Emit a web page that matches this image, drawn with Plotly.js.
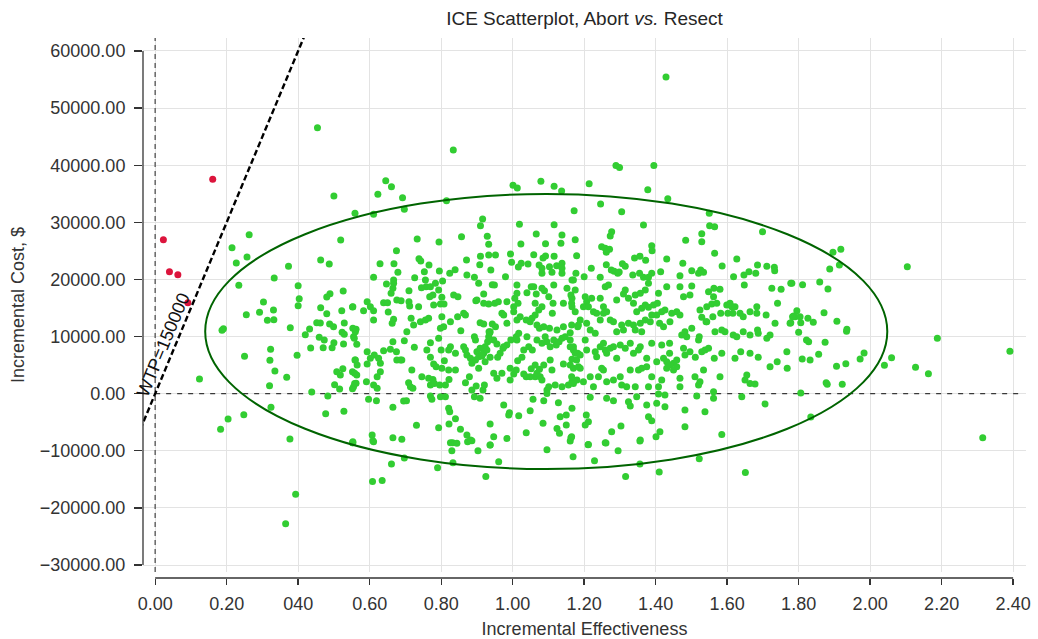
<!DOCTYPE html>
<html><head><meta charset="utf-8">
<script src="https://cdn.plot.ly/plotly-3.0.1.min.js"></script>
<style>html,body{margin:0;padding:0;background:#fff}#chart{width:1038px;height:639px}</style>
</head><body><div id="chart"></div>
<script>
// ---- data (incremental effectiveness, incremental cost $) ----
const redPoints = [[0.023,26970],[0.040,21360],[0.0635,20840],[0.0915,15930],[0.161,37540]];

const greenOuter = [
[0.454,46580],[0.500,34620],[0.559,31590],
[0.263,27840],[0.519,26910],[0.215,25570],[0.257,23940],[0.227,22890],[0.463,23410],[0.487,22710],[0.373,22310],[0.333,20260],[0.234,18980],[0.400,18910],[0.526,17980],[0.489,17510],[0.480,16930],[0.403,16640],[0.303,16060],[0.400,15410],[0.463,15060],[0.552,15180],[0.331,14660],[0.292,14250],[0.522,14530],[0.480,14010],[0.255,13830],[0.314,12850],[0.332,12960],[0.452,12430],[0.462,12380],[0.488,12200],[0.499,11730],[0.432,11330],[0.378,11560],[0.529,12380],[0.562,11280],[0.191,11380],[0.187,11100],[0.420,10330],[0.523,10750],[0.529,10400],[0.459,9880],[0.473,9400],[0.500,8930],[0.435,8000],[0.470,8050],[0.495,8050],[0.527,8700],[0.564,8650],[0.323,7770],[0.250,6550],[0.397,6720],[0.321,5850],[0.559,5900],[0.335,3970],[0.525,4380],[0.508,3850],[0.518,3270],[0.552,3850],[0.564,3270],[0.368,2870],[0.124,2570],
[0.320,1400],[0.438,300],[0.483,-400],[0.502,1580],[0.516,820],[0.552,880],[0.562,1820],[0.324,-2380],[0.248,-3680],[0.204,-4430],[0.183,-6240],[0.477,-3500],[0.528,-3090],[0.377,-7930],[0.552,-8580],[0.393,-17620],[0.365,-22760]
];

const greenUpper = [
[0.834,42670],[0.611,31410],[0.645,37300],[0.661,36250],[0.623,34910],[0.692,34320],[0.697,32290],[0.815,33800],[1.001,36490],[1.013,36020],[1.079,37190],[1.116,36320],[1.137,35490],[1.172,32040],[0.916,30590],[0.910,29420],[1.019,29660],[1.116,29590],[0.733,27090],[0.794,26560],[0.857,27490],[0.929,27560],[0.933,26160],[0.675,25040],[1.023,26210],[1.066,27960],[1.092,26270],[1.138,27790],[1.135,26330],[1.175,26970],[0.629,22760],[0.668,22760],[0.679,21250],[0.738,23640],[0.743,23240],[0.766,22540],[0.753,21360],[0.795,21480],[0.839,21710],[0.871,23410],[0.910,24060],[0.908,22590],[0.933,24290],[0.952,24290],[0.939,21660],[0.994,24460],[0.997,23010],[1.016,22190],[1.024,22830],[1.043,22710],[1.059,24340],[1.074,22540],[1.082,21960],[1.085,23760],[1.092,24110],[1.103,22240],[1.116,24060],[1.123,22410],[1.138,22830],[1.138,21960],[1.138,21080],[1.082,21080],[1.110,21250],[1.177,21080],[0.611,20380],[0.980,20490],[0.872,20780],[0.893,20380],[0.726,20310],[0.756,19910],[0.667,19910],
[1.429,55450],[1.289,39930],[1.299,39580],[1.395,39930],[1.214,36770],[1.378,35720],[1.434,34150],[1.246,33210],[1.305,31870],[1.550,31580],[1.366,29540],[1.551,29420],[1.565,29240],[1.699,28370],[1.277,28370],[1.273,27610],[1.529,28020],[1.529,26620],[1.484,26850],[1.249,25740],[1.259,25450],[1.271,25280],[1.262,24750],[1.179,24170],[1.389,25920],[1.390,25040],[1.565,24580],[1.341,23760],[1.356,24050],[1.372,23350],[1.431,23580],[1.627,23580],[1.262,22590],[1.307,22770],[1.315,22300],[1.220,21950],[1.476,22820],[1.586,22360],[1.685,22530],[1.711,22300],[1.732,22120],[1.733,21540],[1.200,20490],[1.245,20370],[1.276,21660],[1.284,21420],[1.294,21070],[1.298,21310],[1.336,20780],[1.355,21070],[1.366,20370],[1.380,20370],[1.389,21070],[1.414,21360],[1.468,20660],[1.501,21540],[1.520,21070],[1.526,21660],[1.534,21250],[1.618,20490],[1.647,20780],[1.661,21360],[1.680,21070]
];

const greenRight = [
[1.896,24750],[1.918,25280],[1.887,21840],[1.914,22540],[2.104,22240],[1.781,19330],[1.811,19090],[1.859,19560],[1.882,18330],[1.795,14540],[1.786,13600],[1.790,13490],[1.778,12440],[1.826,13200],[1.806,12440],[1.841,12500],[1.871,14190],[1.907,12670],[1.935,11270],[1.934,10920],[1.800,10740],[1.822,9400],[1.828,9110],[1.874,8990],[2.188,9690],[2.391,7420],[1.983,7130],[1.856,6890],[1.972,6070],[2.060,6310],[1.810,6070],[1.832,5900],[2.040,4970],[1.906,4790],[1.932,5260],[2.127,4620],[2.163,3510],[1.877,1930],[1.880,1640],[1.922,1640],[1.806,120],[1.834,-4080],[2.315,-7700]
];

const greenLower = [
[0.553,-8570],[0.611,-8400],[0.661,-12310],[0.697,-11260],[0.608,-15350],[0.635,-15170],[0.790,-12950],[0.832,-8570],[0.830,-9970],[0.833,-12080],[0.874,-8400],[0.886,-8220],[0.903,-9970],[0.937,-8980],[0.961,-11900],[0.925,-14470],[1.096,-9800],[1.161,-8280],[1.169,-11030],[1.211,-8920],[1.229,-11730],[1.261,-8630],[1.295,-9970],[1.316,-14470],[1.356,-8280],[1.356,-12310],[1.410,-13710],[1.522,-11380],[1.651,-13770]
];

const greenCoreLeft = [
[0.905,19330],[0.949,19030],[1.012,19030],[1.059,18740],[1.082,18450],[1.166,19910],[0.647,19210],[0.667,19330],[0.758,18740],[0.784,19330],[0.804,19730],[0.824,21080],[0.943,19090],[1.115,19030],[1.152,18450],
[0.665,18450],[0.660,17570],[0.676,16410],[0.688,16290],[0.639,15940],[0.650,15940],[0.593,16110],[0.602,15240],[0.553,15240],[0.583,14540],[0.611,14540],[0.710,18040],[0.745,18570],[0.770,18740],[0.777,17280],[0.793,18160],[0.802,16870],[0.768,16990],[0.779,15530],[0.798,15710],[0.808,15710],[0.835,17280],[0.847,16990],[0.710,16110],[0.712,15360],[0.737,15240],[0.652,14310],[0.897,16290],[0.919,17460],[0.933,15710],[0.950,15820],[0.960,16110],[0.984,16110],[1.006,16700],[1.012,17570],[1.003,15240],[1.015,15820],[1.040,17690],[1.052,18740],[1.066,17460],[1.089,18040],[1.101,16990],[1.063,15820],[1.073,14660],[1.082,15240],[1.113,15820],[1.142,15820],[1.166,16700],[1.166,15240],[0.919,15820],[0.900,16410],
[0.553,11450],[0.560,10860],[0.611,12900],[0.663,12320],[0.667,13020],[0.716,13200],[0.742,12610],[0.756,12900],[0.765,13200],[0.802,13490],[0.807,11740],[0.826,12610],[0.846,13490],[0.863,14070],[0.868,13780],[0.855,11040],[0.909,12440],[0.919,12200],[0.934,10860],[0.943,12200],[0.952,11740],[0.970,14070],[0.975,13780],[0.984,12320],[1.003,14360],[1.012,12900],[1.021,13490],[1.038,12900],[1.049,12610],[1.054,13200],[1.063,13780],[1.068,12030],[1.075,11450],[1.087,11740],[1.103,11450],[1.111,14070],[1.124,11150],[1.142,11740],[1.161,10690],[1.182,11740],[0.937,10860],[0.723,12030],[0.704,10860],[0.798,11450],
[0.555,9990],[0.557,9690],[0.593,7360],[0.613,6780],[0.639,7530],[0.658,7770],[0.665,9110],[0.675,7360],[0.690,5900],[0.697,9290],[0.725,8120],[0.760,7650],[0.770,8930],[0.793,9690],[0.800,7650],[0.770,6370],[0.821,7650],[0.826,8230],[0.840,7070],[0.863,8230],[0.868,7650],[0.893,9990],[0.896,9400],[0.900,7360],[0.909,7940],[0.914,6600],[0.919,7070],[0.923,8230],[0.928,7650],[0.930,9110],[0.933,9990],[0.936,10690],[0.947,9400],[0.956,8700],[0.975,8230],[0.984,8530],[0.995,9400],[1.010,9990],[1.012,9400],[1.017,10570],[1.031,7650],[1.040,9990],[1.045,8230],[1.055,7650],[1.068,9400],[1.082,8820],[1.091,9990],[1.096,9110],[1.105,8230],[1.115,9400],[1.122,8530],[1.130,9110],[1.138,9690],[1.147,9990],[1.161,8230],[1.170,7650],[1.182,7070],
[0.560,5900],[0.565,5020],[0.558,3570],[0.593,5200],[0.602,6190],[0.625,6190],[0.630,5320],[0.630,3860],[0.621,2980],[0.676,5900],[0.686,5900],[0.718,4150],[0.746,2980],[0.765,2690],[0.777,2510],[0.779,5200],[0.786,4730],[0.802,4440],[0.809,5780],[0.821,4150],[0.840,4150],[0.872,6780],[0.882,6190],[0.886,5320],[0.896,5900],[0.905,6480],[0.914,6780],[0.923,5610],[0.905,4440],[0.937,6370],[0.958,6370],[0.965,7070],[0.973,7940],[0.993,4440],[1.003,3450],[1.010,4150],[1.014,5780],[1.026,6370],[1.031,3450],[1.052,4380],[1.063,5020],[1.063,2980],[1.075,4270],[1.077,2980],[1.087,5020],[1.105,5900],[1.110,4150],[1.142,5200],[1.161,5020],[1.166,6020],[1.189,4440],[0.879,2980],[0.947,3570],
[0.555,1230],[0.558,1810],[0.591,2110],[0.611,1520],[0.621,940],[0.709,1930],[0.714,1230],[0.721,940],[0.770,1520],[0.781,1810],[0.796,1520],[0.812,1520],[0.822,2510],[0.868,1930],[0.886,650],[0.898,1350],[0.917,650],[0.921,1520],[0.956,2690],[0.970,3570],[0.993,2400],[1.038,2980],[1.049,2980],[1.068,3570],[1.082,2400],[1.096,650],[1.101,1230],[1.119,1520],[1.138,1230],[1.156,1520],[1.166,2110],[1.180,2400],
[0.597,-990],[0.619,-1220],[0.665,-2390],[0.695,-1280],[0.703,-1220],[0.770,-400],[0.774,-990],[0.798,-520],[0.812,-520],[0.821,-2560],[0.824,-3150],[0.893,-520],[0.909,-810],[0.975,-1980],[0.991,-3320],[0.989,-3730],[1.017,-3850],[1.049,-2970],[1.057,-990],[1.087,-1220],[1.096,60],[1.128,-1570],[1.133,-4020],[1.150,-3730],[1.166,-2560],
[0.731,-5540],[0.793,-5950],[0.822,-5310],[0.840,-4370],[0.854,-6240],[0.872,-7230],[0.882,-8110],[0.937,-5310],[0.947,-7530],[0.984,-7820],[1.038,-6820],[1.085,-5190],[1.124,-6070],[1.131,-6940],[1.150,-5480],[1.163,-7700],[0.607,-7230],[0.609,-8230],[0.665,-7700],[0.690,-7990],[0.826,-8580],[0.844,-8690],[0.937,-8980],[0.553,-8400]
];

const greenCoreRight = [
[1.468,18740],[1.501,18860],[1.548,17870],[1.563,18450],[1.580,18270],[1.648,19030],[1.725,18450],[1.751,18270],[1.778,19330],[1.170,19910],[1.175,18160],[1.259,18740],[1.268,19030],[1.310,17460],[1.315,18160],[1.343,17280],[1.357,17570],[1.371,18160],[1.380,19330],[1.408,17570],[1.431,18740],
[1.163,17280],[1.203,16990],[1.207,16110],[1.221,16700],[1.245,16700],[1.165,15820],[1.175,14360],[1.198,15240],[1.212,15240],[1.226,14360],[1.254,15240],[1.263,14360],[1.291,16410],[1.324,16700],[1.338,15820],[1.347,14360],[1.361,14950],[1.371,15530],[1.380,15120],[1.394,15530],[1.405,15820],[1.417,14360],[1.426,14660],[1.445,14070],[1.459,14360],[1.478,16990],[1.496,17280],[1.524,14660],[1.543,15240],[1.557,15710],[1.562,16990],[1.571,15820],[1.582,14070],[1.599,15530],[1.608,15820],[1.613,15240],[1.622,15240],[1.616,14070],[1.636,14070],[1.645,13490],[1.664,14360],[1.683,14070],[1.709,13780],[1.741,15820],[1.683,15240],[1.602,14070],[1.529,13370],[1.543,12610],
[1.165,12030],[1.189,12900],[1.207,12320],[1.235,14070],[1.245,12900],[1.254,14070],[1.273,12900],[1.282,12610],[1.291,10860],[1.305,12030],[1.310,11150],[1.324,12320],[1.338,12030],[1.343,11150],[1.357,12320],[1.361,10860],[1.371,12900],[1.385,12610],[1.389,13780],[1.403,13780],[1.411,12320],[1.422,11740],[1.440,12610],[1.468,13780],[1.473,10280],[1.482,10860],[1.487,9990],[1.501,11450],[1.522,9990],[1.541,12610],[1.560,13490],[1.566,10860],[1.585,11150],[1.594,10860],[1.617,10280],[1.627,9990],[1.645,10860],[1.664,10280],[1.685,11150],[1.687,10570],[1.711,9690],[1.720,10280],[1.734,12320],[1.776,12320],[1.783,13490],[1.804,13490],[1.184,12030],[1.217,11150],[1.231,10570],
[1.161,9400],[1.170,8230],[1.175,7070],[1.179,5900],[1.189,6780],[1.203,9400],[1.207,7650],[1.231,7360],[1.235,6480],[1.245,8230],[1.254,8820],[1.259,7650],[1.263,7070],[1.273,7940],[1.282,8230],[1.291,6190],[1.301,8530],[1.315,7940],[1.329,8820],[1.338,7070],[1.352,7650],[1.357,8230],[1.375,6190],[1.389,8820],[1.403,5610],[1.417,8530],[1.422,6190],[1.431,5610],[1.439,8820],[1.439,7070],[1.450,5320],[1.459,5900],[1.478,7940],[1.482,6780],[1.496,7360],[1.511,6370],[1.520,9400],[1.529,7360],[1.538,7650],[1.548,7940],[1.564,6190],[1.585,7070],[1.622,6190],[1.638,7360],[1.664,7070],[1.687,6370],[1.720,4730],[1.740,5610],[1.767,7360],[1.768,4440],
[1.170,4440],[1.184,4730],[1.198,2110],[1.217,2980],[1.226,1230],[1.240,2980],[1.249,4440],[1.254,4150],[1.263,2110],[1.282,2400],[1.301,2980],[1.305,1520],[1.319,1230],[1.329,4150],[1.343,1230],[1.352,4150],[1.361,4440],[1.375,4730],[1.380,1230],[1.389,2980],[1.408,1230],[1.417,2400],[1.431,4440],[1.440,5020],[1.450,4150],[1.459,4730],[1.468,1230],[1.468,2690],[1.510,2980],[1.520,1520],[1.524,2110],[1.534,4150],[1.562,350],[1.580,2980],[1.650,2400],[1.655,3270],[1.664,1810],[1.678,1700],[1.170,1810],[1.165,2980],
[1.217,-640],[1.263,-810],[1.282,-1220],[1.324,-1400],[1.329,-2150],[1.347,-520],[1.375,-1980],[1.403,-1690],[1.426,-2270],[1.408,-50],[1.426,-230],[1.515,-400],[1.538,-3150],[1.562,-810],[1.641,-520],[1.706,-1800],[1.482,-2860],[1.206,-3730],[1.212,-4900],[1.203,-5480],[1.165,-7530],[1.259,-8580],[1.277,-6650],[1.303,-5660],[1.357,-8110],[1.380,-4020],[1.389,-4720],[1.412,-6650],[1.401,-7530],[1.482,-5770],[1.585,-7120],[1.212,-8870]
];

const xTickVals = [0,0.2,0.4,0.6,0.8,1.0,1.2,1.4,1.6,1.8,2.0,2.2,2.4];
const xTickText = ['0.00','0.20','040','0.60','0.80','1.00','1.20','1.40','1.60','1.80','2.00','2.20','2.40'];
const yTickVals = [-30000,-20000,-10000,0,10000,20000,30000,40000,50000,60000];
const yTickText = ['\u221230000.00','\u221220000.00','\u221210000.00','0.00','10000.00','20000.00','30000.00','40000.00','50000.00','60000.00'];
const WTP = 150000;
const ellipseCenter = [1.094, 10890];
const ellipseRadii = [0.954, 24080];

// ---- build ----
const green = [].concat(greenOuter, greenUpper, greenRight, greenLower, greenCoreLeft, greenCoreRight);
const FONT = 'Liberation Sans, Arial, Helvetica, sans-serif';
const TXT = '#333333';

const traces = [
  {type:'scatter', mode:'markers', x:green.map(p=>p[0]), y:green.map(p=>p[1]),
   marker:{color:'#32CD32', size:7, line:{width:0}}, hoverinfo:'skip', showlegend:false},
  {type:'scatter', mode:'markers', x:redPoints.map(p=>p[0]), y:redPoints.map(p=>p[1]),
   marker:{color:'#DC143C', size:7, line:{width:0}}, hoverinfo:'skip', showlegend:false}
];

const xr = [-0.034, 2.436];
const shapes = [
  // zero reference lines
  {type:'line', xref:'x', yref:'paper', x0:0, x1:0, y0:0.0111, y1:1, layer:'above',
   line:{color:'#505050', width:1.3, dash:'5px,4px'}},
  {type:'line', xref:'x', yref:'y', x0:0, x1:2.42, y0:0, y1:0, layer:'between',
   line:{color:'#3a3a3a', width:1.3, dash:'5px,6px'}},
  // WTP line
  {type:'line', xref:'x', yref:'y', x0:-0.1, y0:WTP*-0.1, x1:0.5, y1:WTP*0.5, layer:'above',
   line:{color:'#000', width:2.4, dash:'6px,3px'}},
  // confidence ellipse
  {type:'circle', xref:'x', yref:'y',
   x0:ellipseCenter[0]-ellipseRadii[0], x1:ellipseCenter[0]+ellipseRadii[0],
   y0:ellipseCenter[1]-ellipseRadii[1], y1:ellipseCenter[1]+ellipseRadii[1],
   layer:'above', line:{color:'#006400', width:2}},
  // trimmed spines
  {type:'line', xref:'x', yref:'paper', x0:xTickVals[0], x1:xTickVals[xTickVals.length-1], y0:0, y1:0,
   line:{color:'#333', width:1.3}},
  {type:'line', xref:'paper', yref:'y', x0:0, x1:0, y0:yTickVals[0], y1:yTickVals[yTickVals.length-1],
   line:{color:'#333', width:1.3}}
];

const layout = {
  width:1038, height:639,
  margin:{l:143, r:12, t:38, b:61, pad:0},
  paper_bgcolor:'#fff', plot_bgcolor:'#fff',
  font:{family:FONT, size:18, color:TXT},
  showlegend:false, hovermode:false,
  title:{text:'ICE Scatterplot, Abort <i>vs.</i> Resect', font:{family:FONT, size:19, color:'#262626'},
         x:0.5, xref:'paper', xanchor:'center', y:1-18/639, yref:'container', yanchor:'middle'},
  xaxis:{range:xr, domain:[0,1], anchor:'free', position:0,
         showgrid:true, gridcolor:'#e3e3e3', gridwidth:1, zeroline:false, showline:false,
         ticks:'outside', ticklen:6, tickwidth:1.3, tickcolor:'#333', ticklabelstandoff:3,
         tickmode:'array', tickvals:xTickVals, ticktext:xTickText,
         tickfont:{family:FONT, size:18, color:TXT},
         title:{text:'Incremental Effectiveness', font:{family:FONT, size:18, color:TXT}, standoff:14}},
  yaxis:{range:[-31210, 62270], domain:[0.0111,1], anchor:'x',
         showgrid:true, gridcolor:'#e3e3e3', gridwidth:1, zeroline:false, showline:false,
         ticks:'outside', ticklen:8, tickwidth:1.3, tickcolor:'#333', ticklabelstandoff:5,
         tickmode:'array', tickvals:yTickVals, ticktext:yTickText,
         tickfont:{family:FONT, size:18, color:TXT},
         title:{text:'Incremental Cost, $', font:{family:FONT, size:18, color:TXT}, standoff:10}},
  shapes:shapes,
  annotations:[
    {xref:'x', yref:'y', x:0.0224, y:8530, text:'WTP=150000', showarrow:false,
     textangle:-67.35, font:{family:FONT, size:18, color:'#111'}, xanchor:'center', yanchor:'middle'}
  ]
};

Plotly.newPlot('chart', traces, layout, {displayModeBar:false, staticPlot:true});
</script>
</body></html>
